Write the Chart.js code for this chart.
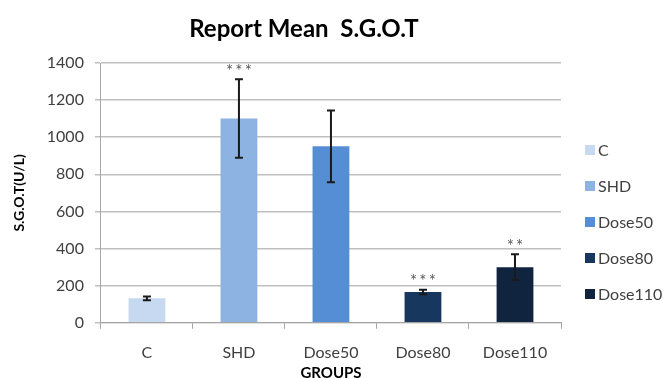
<!DOCTYPE html>
<html>
<head>
<meta charset="utf-8">
<script src="https://cdn.jsdelivr.net/npm/chart.js@4"></script>
<style>
  html, body { margin: 0; padding: 0; background: #fff; }
  #wrap { width: 668px; height: 378px; position: relative; }
</style>
</head>
<body>
<div id="wrap"><canvas id="chart"></canvas></div>
<script>
// values
const groups = ["C", "SHD", "Dose50", "Dose80", "Dose110"];
const meanSGOT = [132, 1101, 951, 166, 300];
const errSGOT = [10, 212, 193, 12, 70];
const stars = ["", "***", "", "***", "**"];
const barColors = ["#c6d9f1", "#8db3e2", "#558ed5", "#17375e", "#10243f"];
const yTicks = [0, 200, 400, 600, 800, 1000, 1200, 1400];

const FONT = "Lato, 'Open Sans', sans-serif";
const TEXT = "#404040";

// error bars + significance stars
const errorBars = {
  id: "errorBars",
  afterDatasetsDraw(chart) {
    const { ctx, scales: { x, y } } = chart;
    ctx.save();
    meanSGOT.forEach((v, i) => {
      const cx = x.getPixelForValue(i);
      const top = y.getPixelForValue(v + errSGOT[i]);
      const bot = y.getPixelForValue(v - errSGOT[i]);
      ctx.strokeStyle = "#1a1a1a";
      ctx.lineWidth = 2;
      ctx.beginPath();
      ctx.moveTo(cx, top); ctx.lineTo(cx, bot);
      ctx.moveTo(cx - 4, top); ctx.lineTo(cx + 4, top);
      ctx.moveTo(cx - 4, bot); ctx.lineTo(cx + 4, bot);
      ctx.stroke();
      if (stars[i]) {
        ctx.fillStyle = "#595959";
        ctx.font = "17px " + FONT;
        ctx.textAlign = "center";
        ctx.textBaseline = "middle";
        const txt = stars[i].split("").join("\u2009");
        ctx.fillText(txt, cx, top - 8);
      }
    });
    ctx.restore();
  }
};

// title and legend drawn to match the reference layout
const sideLegend = {
  id: "sideLegend",
  afterDraw(chart) {
    const { ctx } = chart;
    ctx.save();
    ctx.fillStyle = "#000";
    ctx.font = "bold 24px " + FONT;
    ctx.textAlign = "center";
    ctx.textBaseline = "alphabetic";
    ctx.fillText("Report Mean  S.G.O.T", 304, 37);

    ctx.font = "16px " + FONT;
    ctx.textAlign = "left";
    ctx.textBaseline = "middle";
    groups.forEach((g, i) => {
      const yy = 150 + i * 36;
      ctx.fillStyle = barColors[i];
      ctx.fillRect(585, yy - 5, 10, 10);
      ctx.fillStyle = TEXT;
      ctx.fillText(g, 598, yy + 1);
    });
    ctx.restore();
  }
};

new Chart(document.getElementById("chart"), {
  type: "bar",
  data: {
    labels: groups,
    datasets: [{
      data: meanSGOT,
      backgroundColor: barColors,
      borderWidth: 0,
      barPercentage: 0.4,
      categoryPercentage: 1.0,
    }],
  },
  options: {
    responsive: true,
    maintainAspectRatio: false,
    animation: false,
    layout: { padding: { top: 63, right: 107, bottom: 0, left: 11 } },
    plugins: {
      legend: { display: false },
      tooltip: { enabled: false },
    },
    scales: {
      x: {
        grid: { drawOnChartArea: false, offset: true, tickLength: 6, color: "#a6a6a6" },
        border: { color: "#a6a6a6", width: 1 },
        ticks: { color: TEXT, font: { family: FONT, size: 16 }, padding: 14 },
        title: { display: true, text: "GROUPS", color: "#000", font: { family: FONT, size: 15, weight: "bold" }, padding: { top: -12, bottom: -4 } },
      },
      y: {
        min: 0,
        max: 1400,
        afterBuildTicks: axis => { axis.ticks = yTicks.map(v => ({ value: v })); },
        grid: { color: "#bfbfbf", lineWidth: 1.5, tickLength: 6 },
        border: { color: "#a6a6a6", width: 1 },
        ticks: { color: TEXT, font: { family: FONT, size: 16 }, padding: 11, callback: v => String(v) },
        title: { display: true, text: "S.G.O.T(U/L)", color: "#000", font: { family: FONT, size: 14, weight: "bold" }, padding: { top: 0, bottom: 8 } },
      },
    },
  },
  plugins: [errorBars, sideLegend],
});
</script>
</body>
</html>
